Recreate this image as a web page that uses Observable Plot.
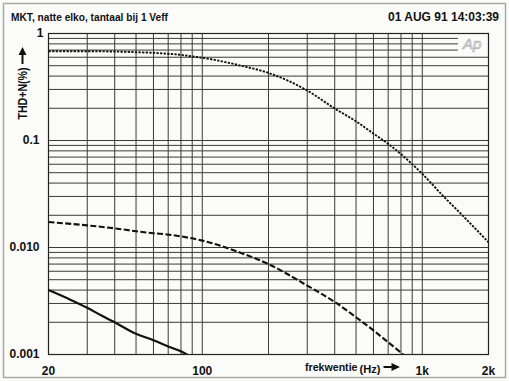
<!DOCTYPE html>
<html>
<head>
<meta charset="utf-8">
<script src="https://cdn.jsdelivr.net/npm/d3@7"></script>
<script src="https://cdn.jsdelivr.net/npm/@observablehq/plot@0.6"></script>
<style>
  html, body { margin: 0; padding: 0; background: #fbfbfa; }
  #chart svg { display: block; }
</style>
</head>
<body>
<div id="chart"></div>
<script>
// ---- data ----
const dottedHz  = [20, 30, 40, 50, 60, 70, 80, 90, 100, 150, 200, 300, 400, 500, 600, 700, 1000, 1250, 1500, 2000];
const dottedVal = [0.683, 0.683, 0.678, 0.669, 0.66, 0.646, 0.632, 0.61, 0.593, 0.50, 0.428, 0.293, 0.199, 0.151, 0.116, 0.093, 0.0488, 0.0300, 0.0206, 0.0112];

const dashedHz  = [20, 30, 40, 50, 60, 70, 80, 100, 150, 200, 300, 400, 500, 600, 700, 820];
const dashedVal = [0.0173, 0.0161, 0.0151, 0.0142, 0.0136, 0.0132, 0.0127, 0.0116, 0.0089, 0.0070, 0.0044, 0.0031, 0.00223, 0.00168, 0.0013, 0.001];

const solidHz  = [20, 25, 30, 35, 40, 50, 60, 70, 80, 85];
const solidVal = [0.0040, 0.00327, 0.00273, 0.0023, 0.0020, 0.00156, 0.00136, 0.00119, 0.00107, 0.001];

const gridX = [30, 40, 50, 60, 70, 80, 90, 100, 200, 300, 400, 500, 600, 700, 800, 900, 1000];
const gridYFull = [0.002, 0.003, 0.004, 0.005, 0.006, 0.007, 0.008, 0.009,
                   0.01, 0.02, 0.03, 0.04, 0.05, 0.06, 0.07, 0.08, 0.09,
                   0.1, 0.2, 0.3, 0.4, 0.5, 0.6];
const gridYShort = [0.7, 0.8, 0.9];

const xTicks = [20, 100, 1000, 2000];
const xTickLabels = ["20", "100", "1k", "2k"];
const yTicks = [0.1, 0.01, 0.001];
const yTickLabels = ["0.1", "0.010", "0.001"];
const yTopTick = [1];
const yTopLabel = ["1"];

const titleText = "MKT, natte elko, tantaal bij 1 Veff";
const dateText = "01 AUG 91 14:03:39";
const yLabel = "THD+N(%)";
const xLabel = "frekwentie";
const xUnit = "(Hz)";

// ---- build tables ----
const dotted = dottedHz.map((f, i) => ({f, v: dottedVal[i]}));
const dashed = dashedHz.map((f, i) => ({f, v: dashedVal[i]}));
const solid  = solidHz.map((f, i) => ({f, v: solidVal[i]}));

const FONT = "'Liberation Sans', Arial, sans-serif";
const INK = "#111";
const GRID = "#3a3a3a";

const chart = Plot.plot({
  width: 509,
  height: 381,
  marginLeft: 48,
  marginRight: 21,
  marginTop: 33,
  marginBottom: 27,
  style: {background: "#fbfbfa", fontFamily: FONT, color: INK},
  x: {type: "log", domain: [20, 2000], axis: null},
  y: {type: "log", domain: [0.001, 1], axis: null},
  marks: [
    Plot.ruleX(gridX, {x: d => d, y1: 0.001, y2: 1, stroke: GRID, strokeWidth: 1}),
    Plot.ruleY(gridYFull, {y: d => d, x1: 20, x2: 2000, stroke: GRID, strokeWidth: 1}),
    Plot.ruleY(gridYShort, {y: d => d, x1: 20, x2: 1460, stroke: GRID, strokeWidth: 1}),
    Plot.frame({stroke: "#222", strokeWidth: 1.2}),
    Plot.line(dotted, {x: "f", y: "v", curve: "monotone-x", stroke: INK, strokeWidth: 1.9, strokeDasharray: "2.3 1.3", strokeLinecap: "butt", clip: true}),
    Plot.line(dashed, {x: "f", y: "v", curve: "monotone-x", stroke: INK, strokeWidth: 2.1, strokeDasharray: "6 2.4", strokeLinecap: "butt", clip: true}),
    Plot.line(solid,  {x: "f", y: "v", curve: "monotone-x", stroke: INK, strokeWidth: 2.2, clip: true}),
    Plot.text(xTicks, {x: d => d, y: 0.001, text: (d, i) => xTickLabels[i], dy: 17, fontSize: 12, fontWeight: "bold", fill: INK}),
    Plot.text(yTicks, {x: 20, y: d => d, text: (d, i) => yTickLabels[i], textAnchor: "end", dx: -9, fontSize: 12, fontWeight: "bold", fill: INK}),
    Plot.text(yTopTick, {x: 20, y: d => d, text: (d, i) => yTopLabel[i], textAnchor: "end", dx: -5, fontSize: 12, fontWeight: "bold", fill: INK})
  ]
});

const svg = d3.select(chart);

// outer border
svg.insert("rect", ":first-child")
  .attr("x", 3.5).attr("y", 3.5).attr("width", 502).attr("height", 374)
  .attr("fill", "none").attr("stroke", "#a8a8a8").attr("stroke-width", 1.5);

// title + date
svg.append("text").attr("x", 11).attr("y", 20.5).attr("text-anchor", "start")
  .attr("font-family", FONT).attr("font-size", 11.5).attr("font-weight", "bold").attr("fill", INK)
  .attr("textLength", 157).attr("lengthAdjust", "spacingAndGlyphs")
  .text(titleText);
svg.append("text").attr("x", 499).attr("y", 20.5).attr("text-anchor", "end")
  .attr("font-family", FONT).attr("font-size", 12).attr("font-weight", "bold").attr("fill", INK)
  .text(dateText);

// Ap logo
svg.append("text").attr("x", 463).attr("y", 49).attr("text-anchor", "start")
  .attr("font-family", FONT).attr("font-size", 15).attr("font-style", "italic")
  .attr("fill", "none").attr("stroke", "#a0a0a0").attr("stroke-width", 0.6)
  .text("Ap");

// y-axis label (rotated) with arrow
svg.append("text").attr("text-anchor", "start")
  .attr("transform", "translate(26.5,119.5) rotate(-90)")
  .attr("font-family", FONT).attr("font-size", 12).attr("font-weight", "bold").attr("fill", INK)
  .attr("textLength", 52).attr("lengthAdjust", "spacingAndGlyphs")
  .text(yLabel);
svg.append("line").attr("x1", 22.5).attr("x2", 22.5).attr("y1", 64).attr("y2", 52)
  .attr("stroke", INK).attr("stroke-width", 2);
svg.append("path").attr("d", "M22.5,47 L18.5,55 L26.5,55 Z").attr("fill", INK);

// x-axis label with arrow
svg.append("text").attr("x", 305).attr("y", 371).attr("text-anchor", "start")
  .attr("font-family", FONT).attr("font-size", 11.5).attr("font-weight", "bold").attr("fill", INK)
  .attr("textLength", 52.5).attr("lengthAdjust", "spacingAndGlyphs")
  .text(xLabel);
svg.append("text").attr("x", 359.5).attr("y", 373).attr("text-anchor", "start")
  .attr("font-family", FONT).attr("font-size", 10.5).attr("font-weight", "bold").attr("fill", INK)
  .attr("textLength", 21).attr("lengthAdjust", "spacingAndGlyphs")
  .text(xUnit);
svg.append("line").attr("x1", 383.5).attr("x2", 393).attr("y1", 367).attr("y2", 367)
  .attr("stroke", INK).attr("stroke-width", 2);
svg.append("path").attr("d", "M400,367 L391.5,363 L391.5,371 Z").attr("fill", INK);

document.getElementById("chart").appendChild(chart);
</script>
</body>
</html>
